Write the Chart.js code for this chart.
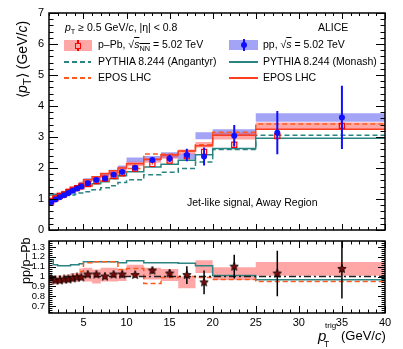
<!DOCTYPE html>
<html>
<head>
<meta charset="utf-8">
<title>mean pT vs pT trig</title>
<script src="https://cdn.jsdelivr.net/npm/chart.js@4.4.1/dist/chart.umd.min.js"></script>
<style>
  html, body { margin: 0; padding: 0; background: #fff; }
  body { width: 403px; height: 349px; position: relative; overflow: hidden;
         font-family: "Liberation Sans", Arial, Helvetica, sans-serif; color: #000; }
  canvas { position: absolute; left: 0; }
  #top { top: 0; }
  #bot { top: 236px; }
  .t { position: absolute; white-space: nowrap; line-height: 1; font-size: 10.5px; }
  .t sub { font-size: 70%; vertical-align: -0.35em; line-height: 0; }
  .sym { position: absolute; }
  .rot { position: absolute; transform-origin: 0 0; transform: rotate(-90deg);
         white-space: nowrap; line-height: 1; }
  .dash { height: 1.5px; }
</style>
</head>
<body>
<canvas id="top" width="403" height="236"></canvas>
<canvas id="bot" width="403" height="113"></canvas>

<!-- axis titles -->
<div class="rot" style="left:15px;top:98px;font-size:14px">⟨<i>p</i><sub>T</sub>⟩ (GeV/<i>c</i>)</div>
<div class="rot" style="left:20px;top:284px;font-size:12.5px">pp/p–Pb</div>
<div class="t" style="left:318px;top:328px;font-size:15px"><i>p</i></div>
<div class="t" style="left:325px;top:322px;font-size:8px">trig</div>
<div class="t" style="left:324px;top:340px;font-size:8.5px">T</div>
<div class="t" style="left:341px;top:329px;font-size:13px">(GeV/<i>c</i>)</div>

<!-- legend, left column -->
<div class="t" style="left:65px;top:22px"><i>p</i><sub>T</sub> ≥ 0.5 GeV/<i>c</i>, |η| &lt; 0.8</div>
<div class="sym" style="left:64px;top:40px;width:28px;height:11px;background:rgba(255,60,60,0.45)"></div>
<div class="sym" style="left:77.3px;top:40px;width:1.5px;height:11px;background:#f00"></div>
<div class="sym" style="left:75px;top:42.5px;width:4px;height:4px;border:1px solid #f00;background:#ffa7a7"></div>
<div class="t" style="left:98px;top:39px">p–Pb, √<span style="text-decoration:overline"><i>s</i><sub>NN</sub></span> = 5.02 TeV</div>
<div class="sym dash" style="left:64px;top:61px;width:27px;background:repeating-linear-gradient(90deg,#2a8481 0 5px,transparent 5px 8px)"></div>
<div class="t" style="left:98px;top:56px">PYTHIA 8.244 (Angantyr)</div>
<div class="sym dash" style="left:64px;top:77px;width:27px;background:repeating-linear-gradient(90deg,#ff5a1e 0 5px,transparent 5px 8px)"></div>
<div class="t" style="left:98px;top:72px">EPOS LHC</div>

<!-- legend, right column -->
<div class="t" style="left:318px;top:22px">ALICE</div>
<div class="sym" style="left:229px;top:40px;width:29px;height:10px;background:rgba(90,90,240,0.55)"></div>
<div class="sym" style="left:242.5px;top:39px;width:2px;height:12px;background:#1010ff"></div>
<div class="sym" style="left:240.5px;top:42px;width:6px;height:6px;border-radius:50%;background:#1010ff"></div>
<div class="t" style="left:263px;top:39px">pp, √<span style="text-decoration:overline"><i>s</i></span> = 5.02 TeV</div>
<div class="sym dash" style="left:229px;top:61px;width:29px;background:#2a8481"></div>
<div class="t" style="left:263px;top:56px">PYTHIA 8.244 (Monash)</div>
<div class="sym dash" style="left:229px;top:77px;width:29px;background:#ff3d1f"></div>
<div class="t" style="left:263px;top:72px">EPOS LHC</div>

<div class="t" style="left:187px;top:197px">Jet-like signal, Away Region</div>

<script>
"use strict";
const $ = id => document.getElementById(id);

/* ---------- data ---------- */
const binEdges   = [1, 1.5, 2, 2.5, 3, 3.5, 4, 4.5, 5, 6, 7, 8, 9, 10, 12, 14, 16, 18, 20, 25, 30, 40];
const binCentres = [1.25, 1.75, 2.25, 2.75, 3.25, 3.75, 4.25, 4.75, 5.5, 6.5, 7.5, 8.5, 9.5, 11, 13, 15, 17, 19, 22.5, 27.5, 35];

const ppMean  = [0.90, 0.98, 1.06, 1.12, 1.19, 1.27, 1.34, 1.40, 1.51, 1.61, 1.66, 1.78, 1.87, 2.01, 2.26, 2.31, 2.42, 2.37, 3.04, 3.14, 3.63];
const ppStat  = [0.01, 0.01, 0.01, 0.01, 0.015, 0.015, 0.015, 0.02, 0.02, 0.03, 0.03, 0.04, 0.05, 0.05, 0.08, 0.12, 0.20, 0.29, 0.35, 0.70, 1.02];
const ppSyst  = [0.03, 0.03, 0.04, 0.04, 0.04, 0.04, 0.05, 0.05, 0.05, 0.06, 0.06, 0.06, 0.07, 0.07, 0.08, 0.08, 0.09, 0.09, 0.11, 0.11, 0.14];

const pPbMean = [0.92, 1.02, 1.10, 1.15, 1.23, 1.30, 1.35, 1.41, 1.48, 1.58, 1.66, 1.75, 1.83, 1.98, 2.13, 2.24, 2.38, 2.52, 2.75, 3.03, 3.36];
const pPbStat = [0.005, 0.005, 0.005, 0.005, 0.01, 0.01, 0.01, 0.01, 0.01, 0.01, 0.01, 0.015, 0.015, 0.015, 0.02, 0.03, 0.03, 0.04, 0.05, 0.08, 0.12];
const pPbSyst = [0.03, 0.03, 0.03, 0.04, 0.04, 0.04, 0.04, 0.05, 0.05, 0.05, 0.05, 0.06, 0.06, 0.07, 0.07, 0.07, 0.08, 0.08, 0.09, 0.11, 0.11];

const monashPP    = [1.67, 1.13, 1.15, 1.18, 1.21, 1.24, 1.27, 1.30, 1.35, 1.42, 1.49, 1.56, 1.65, 1.75, 1.88, 2.03, 2.12, 2.25, 2.43, 2.63, 2.96];
const angantyrPPb = [0.85, 0.96, 1.02, 1.05, 1.08, 1.11, 1.13, 1.16, 1.19, 1.23, 1.30, 1.36, 1.43, 1.53, 1.62, 1.78, 1.86, 1.98, 2.19, 2.60, 3.06];
const eposPP      = [0.90, 0.99, 1.06, 1.13, 1.20, 1.27, 1.33, 1.39, 1.50, 1.62, 1.72, 1.82, 1.91, 2.00, 2.14, 2.28, 2.42, 2.55, 2.72, 3.06, 3.25];
const eposPPb     = [0.92, 1.02, 1.09, 1.15, 1.22, 1.28, 1.33, 1.39, 1.43, 1.42, 1.50, 1.58, 1.66, 1.87, 1.98, 2.45, 2.44, 2.55, 2.75, 3.15, 3.42];

const ratio       = [0.98, 0.96, 0.96, 0.97, 0.97, 0.98, 0.99, 0.99, 1.02, 1.02, 1.00, 1.02, 1.02, 1.015, 1.06, 1.03, 1.015, 0.94, 1.10, 1.03, 1.077];
const ratioStat   = [0.01, 0.01, 0.01, 0.01, 0.01, 0.015, 0.015, 0.015, 0.02, 0.02, 0.02, 0.025, 0.03, 0.02, 0.03, 0.04, 0.09, 0.12, 0.12, 0.23, 0.30];
const ratioSyst   = [0.04, 0.04, 0.04, 0.04, 0.04, 0.04, 0.045, 0.045, 0.06, 0.07, 0.07, 0.07, 0.07, 0.06, 0.06, 0.06, 0.06, 0.06, 0.065, 0.065, 0.07];
const ratioMonash = [1.37, 1.17, 1.12, 1.11, 1.11, 1.11, 1.12, 1.12, 1.13, 1.15, 1.15, 1.15, 1.15, 1.14, 1.16, 1.14, 1.14, 1.135, 1.11, 1.01, 0.966];
const ratioEpos   = [0.98, 0.97, 0.97, 0.98, 0.98, 0.99, 1.00, 1.00, 1.05, 1.14, 1.15, 1.15, 1.15, 1.07, 1.08, 0.93, 0.99, 1.00, 0.99, 0.97, 0.95];

const xTickLabels     = [5, 10, 15, 20, 25, 30, 35, 40];
const topYTickLabels  = [0, 1, 2, 3, 4, 5, 6, 7];
const ratioTickLabels = [0.7, 0.8, 0.9, 1.0, 1.1, 1.2, 1.3];

/* ---------- colours ---------- */
const TEAL = "#2a8481", EPOS_D = "#ff5a1e", EPOS_S = "#ff3d1f", BLUE = "#1010ff";
const BOX_BLUE = "rgba(90,90,240,0.55)", BOX_RED = "rgba(255,60,60,0.45)";
const NONE = "rgba(0,0,0,0)";

Chart.defaults.font.family = '"Liberation Sans", Arial, Helvetica, sans-serif';
Chart.defaults.color = "#000";

/* ---------- helpers ---------- */
// histogram as a stepped line: one point per low edge, last value repeated at the top edge
const steps = vals => binEdges.map((e, i) => ({ x: e, y: vals[Math.min(i, vals.length - 1)] }));
const pts = vals => binCentres.map((x, i) => ({ x, y: vals[i] }));
const hist = (vals, color, dash, order) => ({ data: steps(vals), stepped: "after", borderColor: color,
  borderWidth: 1.5, borderDash: dash || [], pointRadius: 0, fill: false, order });
const band = (mean, err, color, order) => [
  { data: steps(mean.map((m, i) => m + err[i])), stepped: "after", borderColor: NONE, borderWidth: 0,
    pointRadius: 0, fill: false, order },
  { data: steps(mean.map((m, i) => m - err[i])), stepped: "after", borderColor: NONE, borderWidth: 0,
    pointRadius: 0, fill: "-1", backgroundColor: color, order }
];

function starImage(size, fill) {
  const c = document.createElement("canvas"); c.width = c.height = size;
  const g = c.getContext("2d"), r = size / 2 - 0.6, ri = r * 0.45, m = size / 2;
  g.beginPath();
  for (let k = 0; k < 10; k++) {
    const a = -Math.PI / 2 + k * Math.PI / 5, rr = k % 2 ? ri : r;
    g.lineTo(m + rr * Math.cos(a), m + rr * Math.sin(a));
  }
  g.closePath(); g.fillStyle = fill; g.fill();
  g.strokeStyle = "#000"; g.lineWidth = 0.8; g.stroke();
  return c;
}

/* ---------- plugins ---------- */
// vertical stat. error bars, drawn under the markers
const errorBars = {
  id: "errorBars",
  beforeDatasetDraw(chart, args) {
    const ds = chart.data.datasets[args.index];
    if (!ds.errors) return;
    const { ctx, chartArea: a, scales: { x, y } } = chart;
    ctx.save();
    ctx.beginPath(); ctx.rect(a.left, a.top, a.right - a.left, a.bottom - a.top); ctx.clip();
    ctx.strokeStyle = ds.errorColor; ctx.lineWidth = ds.errorWidth;
    ctx.beginPath();
    ds.data.forEach((p, i) => {
      const px = x.getPixelForValue(p.x);
      ctx.moveTo(px, y.getPixelForValue(p.y - ds.errors[i]));
      ctx.lineTo(px, y.getPixelForValue(p.y + ds.errors[i]));
    });
    ctx.stroke();
    ctx.restore();
  }
};

// ROOT-like frame with inward ticks on all four sides
const rootFrame = {
  id: "rootFrame",
  afterDraw(chart, args, o) {
    const { ctx, chartArea: a, scales: { x, y } } = chart;
    const each = (min, max, minor, major, fn) => {
      for (let k = Math.ceil(min / minor - 1e-6); k * minor <= max + 1e-9; k++) {
        const v = k * minor, q = v / major;
        fn(v, Math.abs(q - Math.round(q)) < 1e-6);
      }
    };
    ctx.save();
    ctx.strokeStyle = "#000"; ctx.lineWidth = 1;
    ctx.beginPath();
    each(x.min, x.max, o.xMinor, o.xMajor, (v, maj) => {
      const px = Math.round(x.getPixelForValue(v)) + 0.5, l = maj ? o.xLen : o.xLen / 2;
      ctx.moveTo(px, a.bottom); ctx.lineTo(px, a.bottom - l);
      ctx.moveTo(px, a.top); ctx.lineTo(px, a.top + l);
    });
    each(y.min, y.max, o.yMinor, o.yMajor, (v, maj) => {
      const py = Math.round(y.getPixelForValue(v)) + 0.5, l = maj ? o.yLen : o.yLen / 2;
      ctx.moveTo(a.left, py); ctx.lineTo(a.left + l, py);
      ctx.moveTo(a.right, py); ctx.lineTo(a.right - l, py);
    });
    ctx.stroke();
    ctx.lineWidth = 1.5;
    ctx.strokeRect(a.left, a.top, a.right - a.left, a.bottom - a.top);
    ctx.restore();
  }
};

const fixedTicks = list => scale => { scale.ticks = list.map(v => ({ value: v })); };
const fixWidth = w => s => { s.width = w; s.paddingTop = 0; s.paddingBottom = 0; };

const baseOpts = { responsive: false, animation: false, devicePixelRatio: 1, events: [] };

/* ---------- top panel ---------- */
new Chart($("top"), {
  type: "line",
  data: { datasets: [
    ...band(ppMean, ppSyst, BOX_BLUE, 20),
    ...band(pPbMean, pPbSyst, BOX_RED, 19),
    hist(angantyrPPb, TEAL, [5, 3], 10),
    hist(monashPP, TEAL, [], 9),
    hist(eposPPb, EPOS_D, [5, 3], 8),
    hist(eposPP, EPOS_S, [], 7),
    { data: pts(pPbMean), showLine: false, pointStyle: "rect", pointRadius: 3.6,
      pointBorderColor: "#f00", pointBackgroundColor: NONE, pointBorderWidth: 1.2,
      errors: pPbStat, errorColor: "#f00", errorWidth: 1.5, order: 2 },
    { data: pts(ppMean), showLine: false, pointStyle: "circle", pointRadius: 3,
      pointBorderColor: BLUE, pointBackgroundColor: BLUE, pointBorderWidth: 0,
      errors: ppStat, errorColor: BLUE, errorWidth: 2, order: 1 }
  ] },
  options: { ...baseOpts,
    layout: { padding: { top: 13, right: 18, bottom: 6, left: 0 } },
    scales: {
      x: { type: "linear", min: 1, max: 40, display: false },
      y: { min: 0, max: 7, afterBuildTicks: fixedTicks(topYTickLabels), afterFit: fixWidth(49),
           grid: { drawOnChartArea: false, drawTicks: false }, border: { display: false },
           ticks: { font: { size: 11 }, padding: 5, autoSkip: false, callback: v => String(v) } }
    },
    plugins: { legend: { display: false }, tooltip: { enabled: false },
      rootFrame: { xMajor: 5, xMinor: 1, xLen: 6, yMajor: 1, yMinor: 0.2, yLen: 9 } }
  },
  plugins: [errorBars, rootFrame]
});

/* ---------- ratio panel ---------- */
new Chart($("bot"), {
  type: "line",
  data: { datasets: [
    ...band(ratio, ratioSyst, BOX_RED, 20),
    hist(ratioMonash, TEAL, [], 10),
    hist(ratioEpos, EPOS_D, [5, 3], 9),
    { data: [{ x: 1, y: 1 }, { x: 40, y: 1 }], borderColor: "#222", borderWidth: 1.5,
      borderDash: [7, 3, 2, 3], pointRadius: 0, fill: false, order: 5 },
    { data: pts(ratio), showLine: false, pointStyle: starImage(10, "#7a0a0a"),
      errors: ratioStat, errorColor: "#000", errorWidth: 1.5, order: 1 }
  ] },
  options: { ...baseOpts,
    layout: { padding: { top: 3, right: 18, bottom: 0, left: 0 } },
    scales: {
      x: { type: "linear", min: 1, max: 40, afterBuildTicks: fixedTicks(xTickLabels),
           afterFit: s => { s.height = 36; },
           grid: { drawOnChartArea: false, drawTicks: false }, border: { display: false },
           ticks: { font: { size: 11 }, padding: 3, maxRotation: 0, autoSkip: false,
                    callback: v => String(v) } },
      y: { min: 0.63, max: 1.36, afterBuildTicks: fixedTicks(ratioTickLabels), afterFit: fixWidth(49),
           grid: { drawOnChartArea: false, drawTicks: false }, border: { display: false },
           ticks: { font: { size: 9.5 }, padding: 4, autoSkip: false,
                    callback: v => String(+v.toFixed(1)) } }
    },
    plugins: { legend: { display: false }, tooltip: { enabled: false },
      rootFrame: { xMajor: 5, xMinor: 1, xLen: 7, yMajor: 0.1, yMinor: 0.02, yLen: 7 } }
  },
  plugins: [errorBars, rootFrame]
});
</script>
</body>
</html>
